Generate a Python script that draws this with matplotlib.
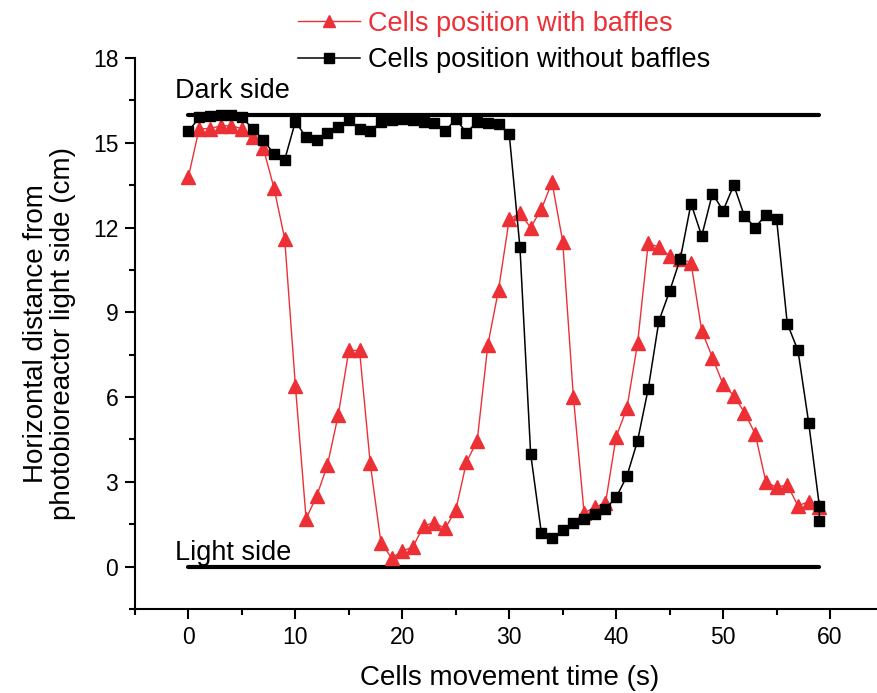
import numpy as np
import matplotlib
matplotlib.use('Agg')
import matplotlib.pyplot as plt
from matplotlib.ticker import MultipleLocator

plt.rcParams['font.family'] = ['Liberation Sans', 'DejaVu Sans']

RED = '#ed2f36'

# cell position with baffles (cm), one reading per second
time_with = list(range(60))
pos_with = [13.8, 15.5, 15.5, 15.6, 15.6, 15.5, 15.2, 14.8, 13.4, 11.6,
            6.4, 1.7, 2.5, 3.6, 5.35, 7.65, 7.65, 3.65, 0.85, 0.3,
            0.55, 0.7, 1.45, 1.55, 1.35, 2.0, 3.7, 4.45, 7.85, 9.8,
            12.3, 12.5, 12.0, 12.65, 13.6, 11.5, 6.0, 1.9, 2.1, 2.25,
            4.6, 5.6, 7.9, 11.45, 11.3, 11.0, 10.9, 10.75, 8.35, 7.4,
            6.45, 6.05, 5.45, 4.7, 3.0, 2.8, 2.9, 2.15, 2.3, 2.1]

# cell position without baffles (cm)
time_without = list(range(60)) + [59]
pos_without = [15.4, 15.9, 15.95, 16.0, 16.0, 15.9, 15.5, 15.1, 14.6, 14.4,
               15.75, 15.2, 15.1, 15.35, 15.55, 15.8, 15.5, 15.4, 15.75, 15.8,
               15.85, 15.8, 15.75, 15.7, 15.4, 15.85, 15.35, 15.75, 15.7, 15.65,
               15.3, 11.3, 4.0, 1.2, 1.0, 1.3, 1.55, 1.7, 1.85, 2.05,
               2.45, 3.2, 4.45, 6.3, 8.7, 9.75, 10.9, 12.85, 11.7, 13.2,
               12.6, 13.5, 12.4, 12.0, 12.45, 12.3, 8.6, 7.65, 5.1, 2.15, 1.6]

# reactor walls
wall_x = [0, 59]
dark_side = 16
light_side = 0

fig = plt.figure(figsize=(8.77, 6.93), dpi=100)
ax = fig.add_axes([135/877, 84/693, 748.5/877, 551/693])

ax.plot(wall_x, [dark_side]*2, color='black', lw=3, solid_capstyle='round')
ax.plot(wall_x, [light_side]*2, color='black', lw=3, solid_capstyle='round')

ax.plot(time_with, pos_with, color=RED, lw=1, marker='^', ms=10,
        mec=RED, mfc=RED, label='Cells position with baffles')
ax.plot(time_without, pos_without, color='black', lw=1.1, marker='s', ms=7.5,
        label='Cells position without baffles')

ax.text(-1.3, 16.6, 'Dark side', fontsize=19.5, va='baseline')
ax.text(-1.3, 0.25, 'Light side', fontsize=19.5, va='baseline')

ax.set_xlim(-5, 65)
ax.set_ylim(-1.5, 18)
ax.xaxis.set_major_locator(MultipleLocator(10))
ax.xaxis.set_minor_locator(MultipleLocator(5))
ax.yaxis.set_major_locator(MultipleLocator(3))
ax.yaxis.set_minor_locator(MultipleLocator(1.5))
ax.tick_params(which='major', direction='out', length=7, width=1.5, labelsize=16.5, pad=5)
ax.tick_params(which='minor', direction='out', length=4, width=1.5)
for s in ['top', 'right']:
    ax.spines[s].set_visible(False)
for s in ['left', 'bottom']:
    ax.spines[s].set_linewidth(1.5)

ax.set_xlabel('Cells movement time (s)', fontsize=20, labelpad=12)
ax.set_ylabel('Horizontal distance from\nphotobioreactor light side (cm)', fontsize=20,
              labelpad=12, linespacing=1.05)

fig.legend(loc='upper left', bbox_to_anchor=(284/877, 1 + 3/693), frameon=False,
           fontsize=19.5, handlelength=2.3, labelspacing=0.4, borderpad=0,
           handletextpad=0.3, labelcolor='linecolor', markerscale=0.9)

fig.savefig('out.png', dpi=100)
